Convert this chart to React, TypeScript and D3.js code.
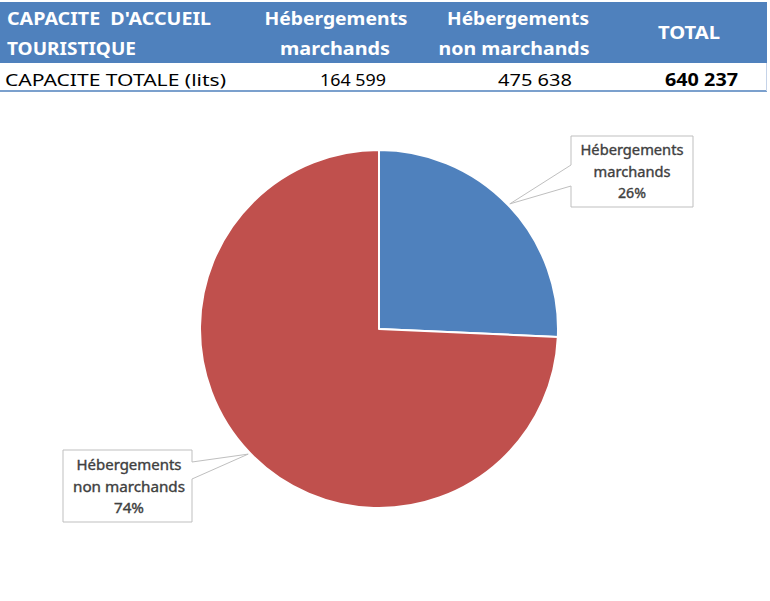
import React from "react";
import * as d3 from "d3";

const categories = ["Hébergements marchands", "Hébergements non marchands"];
const values = [164599, 475638];
const colors = ["#4f81bd", "#c0504d"];
const headerTitle = ["CAPACITE  D'ACCUEIL", "TOURISTIQUE"];
const headerCols = [["Hébergements", "marchands"], ["Hébergements", "non marchands"], ["TOTAL"]];
const rowLabel = "CAPACITE TOTALE (lits)";
const labelLines = [["Hébergements", "marchands"], ["Hébergements", "non marchands"]];

const fmtNum = (v: number) => d3.format(",")(v).replace(/,/g, " ");

export default function App() {
  const W = 770, H = 601;
  const cx = 379, cy = 329, r = 179;
  const total = d3.sum(values);
  const pie = d3.pie<number>().sort(null).value((d) => d)(values);
  const arc = d3.arc<d3.PieArcDatum<number>>().innerRadius(0).outerRadius(r);
  const pct = values.map((v) => d3.format(".0%")(v / total));

  const tips = pie.map((p) => {
    const a = (p.startAngle + p.endAngle) / 2;
    return [cx + Math.sin(a) * (r + 2), cy - Math.cos(a) * (r + 2)];
  });

  const boxes = [
    { x: 571, y: 136, w: 122, h: 71, side: "left", p1: 165, p2: 186, tcx: 632, ty: [150, 172, 193] },
    { x: 63, y: 450, w: 129, h: 72, side: "right", p1: 462, p2: 479, tcx: 129, ty: [465, 487, 508] },
  ];
  const txtLen = [[103, 77, 28], [105, 112, 30]];

  const calloutPath = (b: any, tip: number[]) => {
    const { x, y, w, h } = b;
    if (b.side === "left") {
      return `M${x},${y} L${x + w},${y} L${x + w},${y + h} L${x},${y + h} L${x},${b.p2} L${tip[0]},${tip[1]} L${x},${b.p1} Z`;
    }
    return `M${x},${y} L${x + w},${y} L${x + w},${b.p1} L${tip[0]},${tip[1]} L${x + w},${b.p2} L${x + w},${y + h} L${x},${y + h} Z`;
  };

  const font = "Noto Sans, DejaVu Sans, sans-serif";

  return (
    <svg width={W} height={H} style={{ position: "absolute", left: 0, top: 0, background: "#fff", whiteSpace: "pre" }} fontFamily={font}>
      <rect x={0} y={2} width={767} height={61} fill="#4f81bd" />
      <g fill="#fff" fontWeight="bold" fontSize={17}>
        <text x={7} y={18} dominantBaseline="central" textLength={204} lengthAdjust="spacingAndGlyphs" style={{ whiteSpace: "pre" }}>{headerTitle[0]}</text>
        <text x={7} y={48} dominantBaseline="central" textLength={129} lengthAdjust="spacingAndGlyphs">{headerTitle[1]}</text>
        <text x={336} y={18} textAnchor="middle" dominantBaseline="central" textLength={143} lengthAdjust="spacingAndGlyphs">{headerCols[0][0]}</text>
        <text x={335} y={48} textAnchor="middle" dominantBaseline="central" textLength={110} lengthAdjust="spacingAndGlyphs">{headerCols[0][1]}</text>
        <text x={518} y={18} textAnchor="middle" dominantBaseline="central" textLength={142} lengthAdjust="spacingAndGlyphs">{headerCols[1][0]}</text>
        <text x={514} y={48} textAnchor="middle" dominantBaseline="central" textLength={151} lengthAdjust="spacingAndGlyphs">{headerCols[1][1]}</text>
        <text x={689} y={32} textAnchor="middle" dominantBaseline="central" textLength={62} lengthAdjust="spacingAndGlyphs">{headerCols[2][0]}</text>
      </g>
      <line x1={0} x2={767} y1={91} y2={91} stroke="#4f81bd" strokeWidth={1.5} />
      <line x1={766.5} x2={766.5} y1={63} y2={91} stroke="#c5d3e8" strokeWidth={1} />
      <g fill="#000" fontSize={17}>
        <text x={5} y={79} dominantBaseline="central" textLength={221} lengthAdjust="spacingAndGlyphs">{rowLabel}</text>
        <text x={386} y={79} textAnchor="end" dominantBaseline="central" textLength={66} lengthAdjust="spacingAndGlyphs">{fmtNum(values[0])}</text>
        <text x={572} y={79} textAnchor="end" dominantBaseline="central" textLength={74} lengthAdjust="spacingAndGlyphs">{fmtNum(values[1])}</text>
        <text x={738} y={79} textAnchor="end" dominantBaseline="central" fontWeight="bold" textLength={73} lengthAdjust="spacingAndGlyphs">{fmtNum(total)}</text>
      </g>
      <g transform={`translate(${cx},${cy})`}>
        {pie.map((p, i) => (
          <path key={categories[i]} d={arc(p) || ""} fill={colors[i]} stroke="#fff" strokeWidth={2} strokeLinejoin="round" />
        ))}
      </g>
      {boxes.map((b, i) => (
        <g key={i}>
          <path d={calloutPath(b, tips[i])} fill="#fff" stroke="#bfbfbf" strokeWidth={1} />
          <g fill="#404040" stroke="#404040" strokeWidth={0.35} fontSize={13.5} textAnchor="middle">
            {[...labelLines[i], pct[i]].map((t, j) => (
              <text key={j} x={b.tcx} y={b.ty[j]} dominantBaseline="central" textLength={txtLen[i][j]} lengthAdjust="spacingAndGlyphs">{t}</text>
            ))}
          </g>
        </g>
      ))}
    </svg>
  );
}
